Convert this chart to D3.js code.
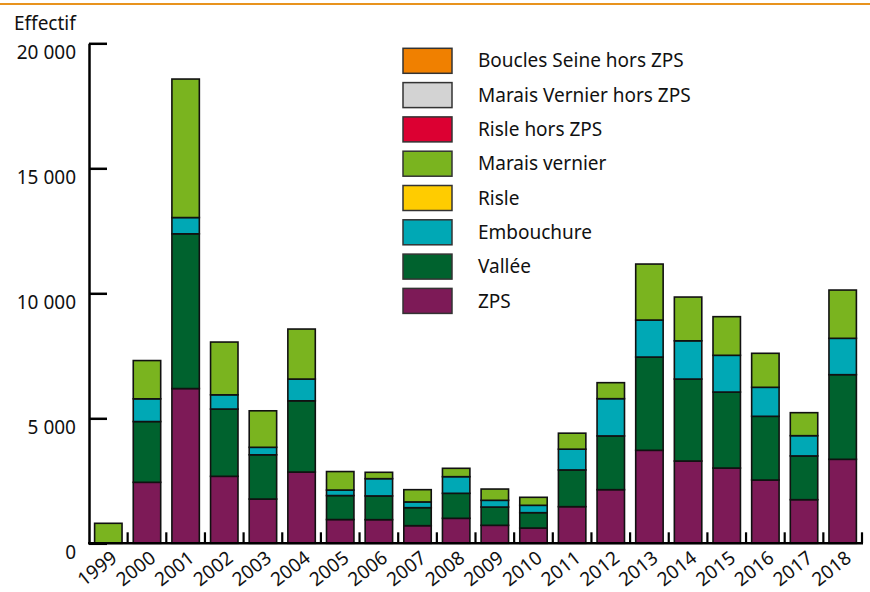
<!DOCTYPE html>
<html>
<head>
<meta charset="utf-8">
<script src="https://cdn.jsdelivr.net/npm/d3@7"></script>
<style>
  body { margin: 0; background: #fff; }
  svg { font-family: "Noto Sans", sans-serif; }
</style>
</head>
<body>
<script>
// effectifs par année et par secteur
const years = ["1999","2000","2001","2002","2003","2004","2005","2006","2007","2008","2009","2010","2011","2012","2013","2014","2015","2016","2017","2018"];
const zps        = [0, 2440, 6190, 2680, 1770, 2850, 950, 945, 705, 1000, 720, 610, 1465, 2145, 3720, 3290, 3010, 2530, 1745, 3360];
const vallee     = [0, 2430, 6190, 2690, 1770, 2850, 960, 950, 720, 1000, 730, 615, 1470, 2150, 3730, 3280, 3040, 2550, 1750, 3385];
const embouchure = [0, 910, 650, 570, 300, 870, 220, 690, 230, 665, 270, 295, 830, 1490, 1480, 1530, 1470, 1160, 810, 1455];
const risle      = [0, 0, 0, 0, 0, 0, 0, 0, 0, 0, 0, 0, 0, 0, 0, 0, 0, 0, 0, 0];
const maraisVernier = [800, 1530, 5540, 2110, 1460, 2000, 740, 255, 490, 335, 450, 320, 640, 640, 2240, 1750, 1545, 1360, 920, 1930];
const risleHors  = [0, 0, 0, 0, 0, 0, 0, 0, 0, 0, 0, 0, 0, 0, 0, 0, 0, 0, 0, 0];
const maraisVernierHors = [0, 0, 0, 0, 0, 0, 0, 0, 0, 0, 0, 0, 0, 0, 0, 0, 0, 0, 0, 0];
const bouclesHors = [0, 0, 0, 0, 0, 0, 0, 0, 0, 0, 0, 0, 0, 0, 0, 0, 0, 0, 0, 0];
const yTicks = [0, 5000, 10000, 15000, 20000];

// ordre d'empilement (bas -> haut)
const series = [
  { name: "ZPS", values: zps, color: "#7d1a57" },
  { name: "Vallée", values: vallee, color: "#00622e" },
  { name: "Embouchure", values: embouchure, color: "#00a8b5" },
  { name: "Risle", values: risle, color: "#ffcc00" },
  { name: "Marais vernier", values: maraisVernier, color: "#7ab41f" },
  { name: "Risle hors ZPS", values: risleHors, color: "#dc0032" },
  { name: "Marais Vernier hors ZPS", values: maraisVernierHors, color: "#d3d3d3" },
  { name: "Boucles Seine hors ZPS", values: bouclesHors, color: "#f08000" }
];

const width = 870, height = 592;
const x0 = 89, x1 = 862, yTop = 43.3, yBase = 543.3;

const svg = d3.select("body").append("svg")
  .attr("width", width)
  .attr("height", height);

// filet orange en haut
svg.append("line")
  .attr("x1", 0).attr("x2", width)
  .attr("y1", 4).attr("y2", 4)
  .attr("stroke", "#e8931e")
  .attr("stroke-width", 2);

const x = d3.scaleBand()
  .domain(years)
  .range([x0, x1])
  .paddingInner(0.29)
  .paddingOuter(0.145);

const y = d3.scaleLinear()
  .domain([0, 20000])
  .range([yBase, yTop]);

const table = years.map((yr, i) => {
  const row = { year: yr };
  series.forEach(s => { row[s.name] = s.values[i]; });
  return row;
});

const stacked = d3.stack().keys(series.map(s => s.name))(table);

const layers = svg.append("g").selectAll("g")
  .data(stacked)
  .join("g")
  .attr("fill", (d, i) => series[i].color);

layers.selectAll("rect")
  .data(d => d.filter(p => p[1] - p[0] > 0))
  .join("rect")
  .attr("x", d => x(d.data.year))
  .attr("width", x.bandwidth())
  .attr("y", d => y(d[1]))
  .attr("height", d => y(d[0]) - y(d[1]))
  .attr("stroke", "#111")
  .attr("stroke-width", 1.6);

// axe Y
const fr = d3.formatLocale({ decimal: ",", thousands: " ", grouping: [3], currency: ["", " €"] });
const yAxis = d3.axisLeft(y)
  .tickValues(yTicks)
  .tickFormat(fr.format(","))
  .tickSizeInner(-18)
  .tickSizeOuter(0)
  .tickPadding(13);

const gy = svg.append("g")
  .attr("transform", `translate(${x0},0)`)
  .call(yAxis);
gy.select(".domain").attr("stroke", "#000").attr("stroke-width", 2.5);
gy.selectAll(".tick line").attr("stroke", "#000").attr("stroke-width", 2.5);
gy.selectAll(".tick text")
  .attr("font-size", 19)
  .attr("font-family", "Noto Sans")
  .attr("fill", "#111")
  .attr("dy", "0.78em");

svg.append("text")
  .attr("x", 14)
  .attr("y", 30)
  .attr("font-size", 19)
  .attr("fill", "#111")
  .text("Effectif");

// axe X
svg.append("line")
  .attr("x1", x0 - 1).attr("x2", x1 + 1)
  .attr("y1", yBase).attr("y2", yBase)
  .attr("stroke", "#000")
  .attr("stroke-width", 2.5);

const bounds = d3.range(1, years.length + 1).map(i => x0 + i * x.step());
svg.append("g").selectAll("line")
  .data(bounds)
  .join("line")
  .attr("x1", d => d).attr("x2", d => d)
  .attr("y1", yBase).attr("y2", yBase - 11)
  .attr("stroke", "#000")
  .attr("stroke-width", 2.2);

svg.append("g").selectAll("text")
  .data(years)
  .join("text")
  .attr("text-anchor", "end")
  .attr("font-size", 19)
  .attr("fill", "#111")
  .attr("transform", d => `translate(${x(d) + x.bandwidth() / 2 + 10},${yBase + 17}) rotate(-38)`)
  .text(d => d);

// légende
const legend = svg.append("g").selectAll("g")
  .data(series.slice().reverse())
  .join("g")
  .attr("transform", (d, i) => `translate(403,${48.3 + i * 34.3})`);

legend.append("rect")
  .attr("width", 49)
  .attr("height", 25)
  .attr("fill", d => d.color)
  .attr("stroke", "#333")
  .attr("stroke-width", 1.5);

legend.append("text")
  .attr("x", 75)
  .attr("y", 12.5)
  .attr("dy", "0.35em")
  .attr("font-size", 19)
  .attr("fill", "#111")
  .text(d => d.name);
</script>
</body>
</html>
